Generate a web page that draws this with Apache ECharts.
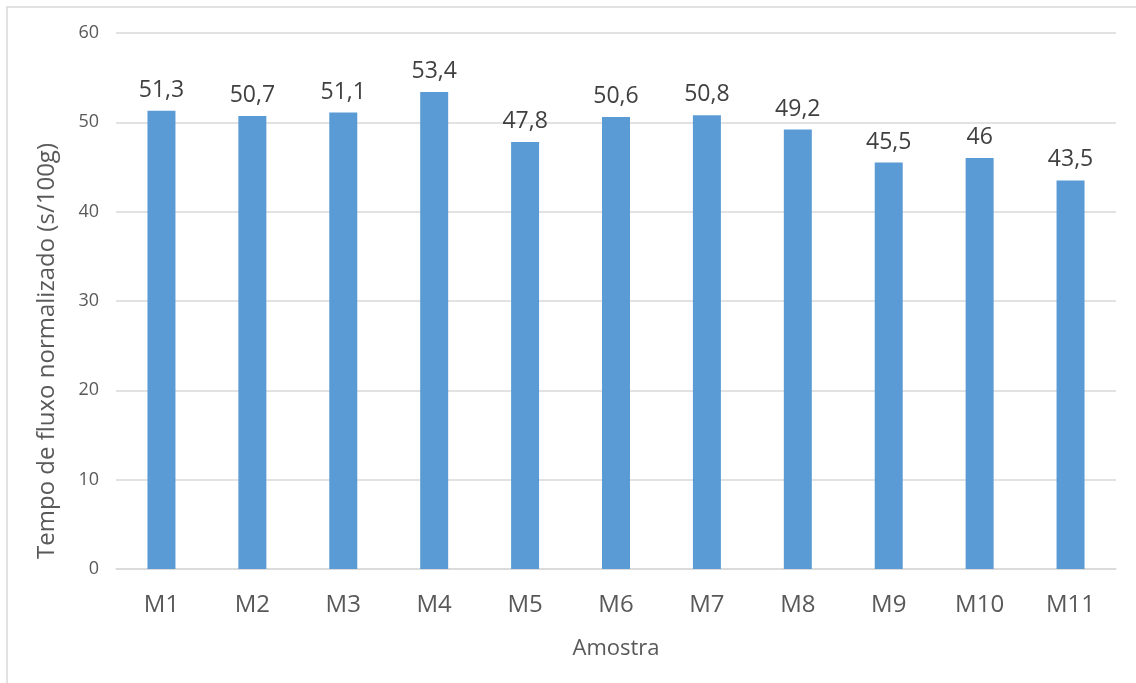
<!DOCTYPE html>
<html>
<head>
<meta charset="utf-8">
<script src="https://cdn.jsdelivr.net/npm/echarts@6/dist/echarts.min.js"></script>
<style>
  html, body { margin: 0; padding: 0; background: #fff; }
  #chart { width: 1136px; height: 683px; }
</style>
</head>
<body>
<div id="chart"></div>
<script>
var categories = ['M1', 'M2', 'M3', 'M4', 'M5', 'M6', 'M7', 'M8', 'M9', 'M10', 'M11']
var tempoFluxo = [51.3, 50.7, 51.1, 53.4, 47.8, 50.6, 50.8, 49.2, 45.5, 46, 43.5]

var fonte = '"Open Sans", "Noto Sans", sans-serif'

var chart = echarts.init(document.getElementById('chart'))
var option = {
  animation: false,
  textStyle: { fontFamily: fonte },
  graphic: [
    {
      type: 'rect',
      shape: { x: 7, y: 7, width: 1200, height: 800 },
      style: { fill: 'none', stroke: '#d9d9d9', lineWidth: 1.5 },
      silent: true,
    },
  ],
  grid: {
    left: 116,
    right: 20,
    top: 33,
    bottom: 114,
  },
  xAxis: {
    type: 'category',
    data: categories,
    name: 'Amostra',
    nameLocation: 'middle',
    nameGap: 69,
    nameTextStyle: { fontSize: 22, color: '#595959', fontFamily: fonte },
    axisLine: { lineStyle: { color: '#d9d9d9', width: 1.5 } },
    axisTick: { show: false },
    axisLabel: { fontSize: 24, color: '#595959', margin: 24, fontFamily: fonte },
  },
  yAxis: {
    type: 'value',
    min: 0,
    max: 60,
    interval: 10,
    name: 'Tempo de fluxo normalizado (s/100g)',
    nameLocation: 'middle',
    nameGap: 57,
    nameTextStyle: {
      fontSize: 24,
      color: '#595959',
      fontFamily: fonte,
      padding: [0, 100, 0, 0],
    },
    axisLine: { show: false },
    axisTick: { show: false },
    axisLabel: { fontSize: 18, color: '#595959', margin: 17, fontFamily: fonte },
    splitLine: { lineStyle: { color: '#d9d9d9', width: 1.5 } },
  },
  series: [
    {
      type: 'bar',
      data: tempoFluxo,
      barWidth: 28,
      itemStyle: { color: '#5b9bd5' },
      label: {
        show: true,
        position: 'top',
        distance: 9,
        fontSize: 23,
        color: '#404040',
        fontFamily: fonte,
        formatter: function (p) {
          return String(p.value).replace('.', ',')
        },
      },
    },
  ],
}
chart.setOption(option)
</script>
</body>
</html>
